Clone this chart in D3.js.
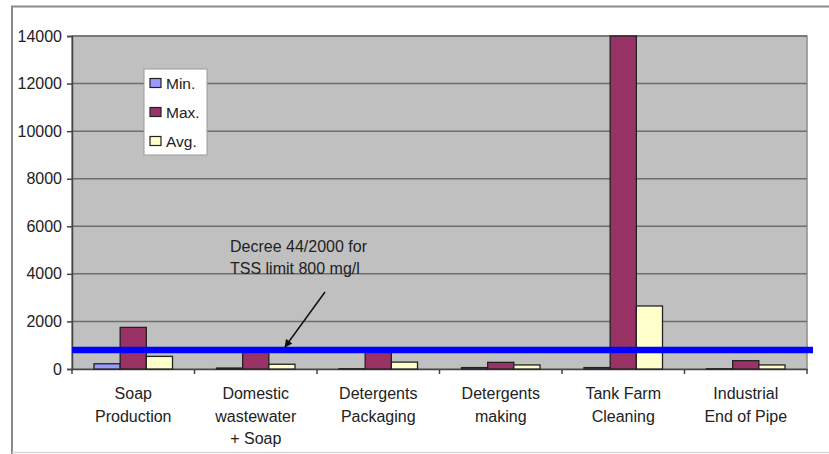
<!DOCTYPE html>
<html>
<head>
<meta charset="utf-8">
<script src="https://cdn.jsdelivr.net/npm/d3@7"></script>
<style>
  html, body { margin: 0; padding: 0; background: #fff; }
  svg text { font-family: "Liberation Sans", Arial, sans-serif; fill: #222; }
</style>
</head>
<body>
<svg id="chart" width="829" height="454"></svg>
<script>
// TSS concentrations (mg/l) by wastewater source
const categories = [
  ["Soap", "Production"],
  ["Domestic", "wastewater", "+ Soap"],
  ["Detergents", "Packaging"],
  ["Detergents", "making"],
  ["Tank Farm", "Cleaning"],
  ["Industrial", "End of Pipe"]
];
const seriesNames = ["Min.", "Max.", "Avg."];
const minValues = [220, 40, 10, 60, 60, 10];
const maxValues = [1750, 850, 800, 280, 14000, 350];
const avgValues = [530, 200, 290, 170, 2650, 170];
const yTicks = [0, 2000, 4000, 6000, 8000, 10000, 12000, 14000];
const limitValue = 800;
const annotationLines = ["Decree 44/2000 for", "TSS limit 800 mg/l"];

const colors = ["#9999ff", "#993366", "#ffffcc"];
const series = [minValues, maxValues, avgValues];

const svg = d3.select("#chart");
const plot = { left: 72, right: 807, top: 36, bottom: 369 };

// outer frame
svg.append("path")
  .attr("d", "M12,454 L12,6.5 L829,6.5")
  .attr("fill", "none").attr("stroke", "#8a8a8a").attr("stroke-width", 2);
svg.append("line").attr("x1", 12).attr("x2", 829).attr("y1", 452.5).attr("y2", 452.5)
  .attr("stroke", "#d8d8d8").attr("stroke-width", 1.5);

const x0 = d3.scaleBand()
  .domain(d3.range(categories.length))
  .range([plot.left, plot.right])
  .paddingInner(0).paddingOuter(0);

const x1 = d3.scaleBand()
  .domain(d3.range(seriesNames.length))
  .range([0, x0.bandwidth()])
  .paddingOuter(0.84).paddingInner(0);

const y = d3.scaleLinear().domain([0, 14000]).range([plot.bottom, plot.top]);

// plot background
svg.append("rect")
  .attr("x", plot.left).attr("y", plot.top)
  .attr("width", plot.right - plot.left).attr("height", plot.bottom - plot.top)
  .attr("fill", "#c0c0c0").attr("stroke", "#8c8c8c").attr("stroke-width", 1.5);

// horizontal gridlines
svg.append("g").selectAll("line")
  .data(yTicks.filter(t => t > 0))
  .join("line")
  .attr("x1", plot.left).attr("x2", plot.right)
  .attr("y1", d => y(d)).attr("y2", d => y(d))
  .attr("stroke", "#6e6e6e").attr("stroke-width", 1.5);

// y axis
const yAxis = svg.append("g")
  .attr("transform", `translate(${plot.left},0)`)
  .call(d3.axisLeft(y).tickValues(yTicks).tickSize(5).tickPadding(5).tickFormat(d3.format("d")));
yAxis.select(".domain").attr("stroke", "#444").attr("stroke-width", 1.5);
yAxis.selectAll(".tick line").attr("stroke", "#444").attr("stroke-width", 1.5);
yAxis.selectAll("text").style("font-size", "16px").attr("fill", "#222")
  .attr("font-family", "Liberation Sans, Arial, sans-serif");

// x axis
const xAxis = svg.append("g")
  .attr("transform", `translate(0,${plot.bottom})`)
  .call(d3.axisBottom(x0).tickSize(0).tickFormat(""));
xAxis.select(".domain").attr("stroke", "#444").attr("stroke-width", 1.5);
svg.append("g").selectAll("line")
  .data(d3.range(categories.length + 1))
  .join("line")
  .attr("x1", i => plot.left + i * x0.step()).attr("x2", i => plot.left + i * x0.step())
  .attr("y1", plot.bottom).attr("y2", plot.bottom + 5)
  .attr("stroke", "#444").attr("stroke-width", 1.5);

// bars
const groups = svg.append("g").selectAll("g")
  .data(categories.map((c, i) => i))
  .join("g")
  .attr("transform", i => `translate(${x0(i)},0)`);
groups.selectAll("rect")
  .data(i => series.map((s, k) => ({ k, v: s[i] })))
  .join("rect")
  .attr("x", d => x1(d.k))
  .attr("width", x1.bandwidth())
  .attr("y", d => y(d.v))
  .attr("height", d => y(0) - y(d.v))
  .attr("fill", d => colors[d.k])
  .attr("stroke", "#222").attr("stroke-width", 1.3);

// category labels
const catLabels = svg.append("g").selectAll("text")
  .data(categories)
  .join("text")
  .attr("text-anchor", "middle")
  .attr("x", (d, i) => x0(i) + x0.bandwidth() / 2)
  .attr("y", 399)
  .style("font-size", "16px");
catLabels.selectAll("tspan")
  .data(d => d)
  .join("tspan")
  .attr("x", function () { return this.parentNode.getAttribute("x"); })
  .attr("dy", (d, j) => j === 0 ? 0 : 22.5)
  .text(d => d);

// limit line
svg.append("line")
  .attr("x1", plot.left).attr("x2", plot.right + 6)
  .attr("y1", y(limitValue)).attr("y2", y(limitValue))
  .attr("stroke", "#0000ff").attr("stroke-width", 6.5);

// annotation
svg.append("g").selectAll("text")
  .data(annotationLines)
  .join("text")
  .attr("x", 230).attr("y", (d, i) => 252 + i * 22)
  .style("font-size", "16px")
  .text(d => d);

svg.append("defs").append("marker")
  .attr("id", "arrow").attr("viewBox", "0 0 10 10")
  .attr("refX", 9).attr("refY", 5)
  .attr("markerWidth", 9).attr("markerHeight", 8)
  .attr("orient", "auto")
  .attr("markerUnits", "userSpaceOnUse")
  .append("path").attr("d", "M0,0 L10,5 L0,10 Z").attr("fill", "#111");
svg.append("line")
  .attr("x1", 325).attr("y1", 292).attr("x2", 285).attr("y2", 347)
  .attr("stroke", "#111").attr("stroke-width", 1.5)
  .attr("marker-end", "url(#arrow)");

// legend
const legend = svg.append("g").attr("transform", "translate(144,69)");
legend.append("rect")
  .attr("width", 63).attr("height", 86)
  .attr("fill", "#fff").attr("stroke", "#9a9a9a").attr("stroke-width", 1);
const items = legend.selectAll("g.item")
  .data(seriesNames)
  .join("g").attr("class", "item")
  .attr("transform", (d, i) => `translate(6,${14 + i * 29})`);
items.append("rect")
  .attr("x", 0).attr("y", -4.5).attr("width", 11).attr("height", 9)
  .attr("fill", (d, i) => colors[i]).attr("stroke", "#222").attr("stroke-width", 1.2);
items.append("text")
  .attr("x", 16).attr("y", 5.5)
  .style("font-size", "15.5px")
  .text(d => d);
</script>
</body>
</html>
